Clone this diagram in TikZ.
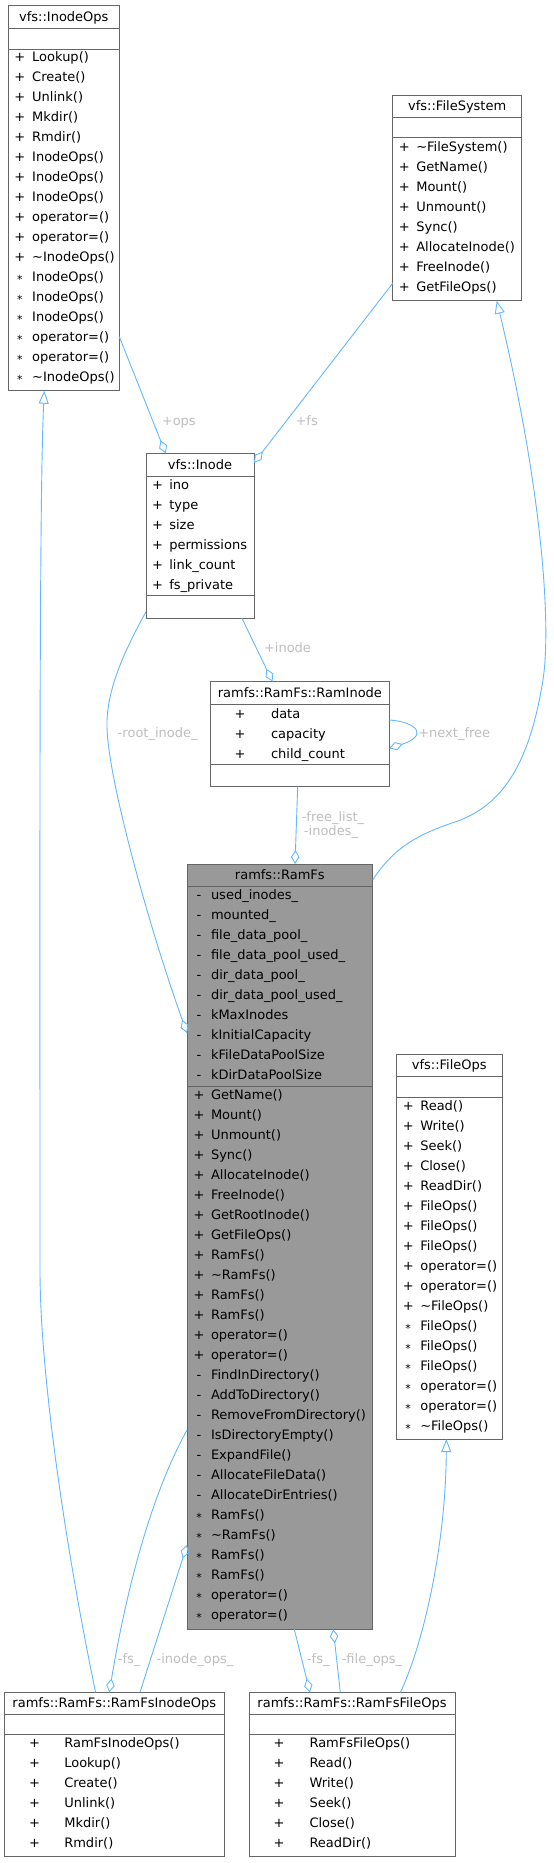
\documentclass[tikz,border=0pt]{standalone}
\usepackage{fontspec}
\setmainfont{DejaVu Sans}
\usetikzlibrary{arrows.meta}
\definecolor{boxline}{HTML}{666666}
\definecolor{mainfill}{HTML}{999999}
\definecolor{edgeblue}{HTML}{63B8FF}
\definecolor{lblgray}{HTML}{BEBEBE}
\newcommand\protsym{{\fontsize{11}{12}\selectfont\raisebox{-1.8pt}{*}}}
\tikzset{
  every node/.style={font=\fontsize{13}{15}\selectfont, inner sep=0pt, outer sep=0pt},
  umlbox/.style={draw=boxline, line width=1pt, rectangle, anchor=north west, fill=white},
  sepline/.style={draw=boxline, line width=1pt},
  symnode/.style={anchor=base},
  txtnode/.style={anchor=base west},
  ttlnode/.style={anchor=base},
  lbl/.style={text=lblgray, anchor=base},
  edge/.style={draw=edgeblue, line width=0.9pt, line join=miter},
  agg/.style={-{Diamond[open,length=14pt,width=8.5pt]}},
  inh/.style={-{Triangle[open,length=13pt,width=10pt]}}
}
\newcommand\classrows[5]{%
  \foreach \rowsym/\rowtxt [count=\ri] in {#5} {%
    \pgfmathsetmacro\yy{#4+20*(\ri-1)+4.6}%
    \node[symnode] (#1s\ri) at (#2,\yy) {\rowsym};%
    \node[txtnode] (#1t\ri) at (#3,\yy) {\rowtxt};%
  }%
}
\begin{document}
\begin{tikzpicture}[x=1pt,y=-1pt]
\useasboundingbox (0,0) rectangle (554,1863);
\fill[white] (0,0) rectangle (554,1863);

% ---------- vfs::InodeOps ----------
\node[umlbox, minimum width=111pt, minimum height=385.7pt] (iops) at (8.3,5) {};
\draw[sepline] (8.3,28.3) -- (119.3,28.3);
\draw[sepline] (8.3,49) -- (119.3,49);
\node[ttlnode] (iopsT) at (63.8,21.3) {vfs::InodeOps};
\classrows{io}{19.8}{32.2}{57.3}{+/Lookup(),+/Create(),+/Unlink(),+/Mkdir(),+/Rmdir(),+/InodeOps(),+/InodeOps(),+/InodeOps(),+/operator=(),+/operator=(),+/\textasciitilde InodeOps(),\protsym/InodeOps(),\protsym/InodeOps(),\protsym/InodeOps(),\protsym/operator=(),\protsym/operator=(),\protsym/\textasciitilde InodeOps()}

% ---------- vfs::FileSystem ----------
\node[umlbox, minimum width=129pt, minimum height=205.7pt] (fsys) at (392.7,95) {};
\draw[sepline] (392.7,117.7) -- (521.7,117.7);
\draw[sepline] (392.7,137.7) -- (521.7,137.7);
\node[ttlnode] (fsysT) at (457.2,110.9) {vfs::FileSystem};
\classrows{fs}{404.2}{416.3}{146.7}{+/\textasciitilde FileSystem(),+/GetName(),+/Mount(),+/Unmount(),+/Sync(),+/AllocateInode(),+/FreeInode(),+/GetFileOps()}

% ---------- vfs::Inode ----------
\node[umlbox, minimum width=108pt, minimum height=165pt] (inode) at (146,453.3) {};
\draw[sepline] (146,476) -- (254,476);
\draw[sepline] (146,595.3) -- (254,595.3);
\node[ttlnode] (inodeT) at (200,469.3) {vfs::Inode};
\classrows{in}{157.5}{169.3}{484.7}{+/ino,+/type,+/size,+/permissions,+/link\_count,+/fs\_private}

% ---------- ramfs::RamFs::RamInode ----------
\node[umlbox, minimum width=178.8pt, minimum height=105pt] (raminode) at (210.5,681.5) {};
\draw[sepline] (210.5,704.5) -- (389.3,704.5);
\draw[sepline] (210.5,764.3) -- (389.3,764.3);
\node[ttlnode] (raminodeT) at (299.9,697.9) {ramfs::RamFs::RamInode};
\classrows{ri}{240}{271}{713.5}{+/data,+/capacity,+/child\_count}

% ---------- ramfs::RamFs ----------
\node[umlbox, fill=mainfill, minimum width=185.7pt, minimum height=765.3pt] (ramfs) at (187,864) {};
\draw[sepline] (187,886) -- (372.7,886);
\draw[sepline] (187,1086.7) -- (372.7,1086.7);
\node[ttlnode] (ramfsT) at (279.8,879.6) {ramfs::RamFs};
\classrows{rfa}{199}{211}{895.3}{-/used\_inodes\_,-/mounted\_,-/file\_data\_pool\_,-/file\_data\_pool\_used\_,-/dir\_data\_pool\_,-/dir\_data\_pool\_used\_,-/kMaxInodes,-/kInitialCapacity,-/kFileDataPoolSize,-/kDirDataPoolSize}
\classrows{rfm}{199}{211}{1095.3}{+/GetName(),+/Mount(),+/Unmount(),+/Sync(),+/AllocateInode(),+/FreeInode(),+/GetRootInode(),+/GetFileOps(),+/RamFs(),+/\textasciitilde RamFs(),+/RamFs(),+/RamFs(),+/operator=(),+/operator=(),-/FindInDirectory(),-/AddToDirectory(),-/RemoveFromDirectory(),-/IsDirectoryEmpty(),-/ExpandFile(),-/AllocateFileData(),-/AllocateDirEntries(),\protsym/RamFs(),\protsym/\textasciitilde RamFs(),\protsym/RamFs(),\protsym/RamFs(),\protsym/operator=(),\protsym/operator=()}

% ---------- vfs::FileOps ----------
\node[umlbox, minimum width=105.3pt, minimum height=385pt] (fops) at (396.7,1054) {};
\draw[sepline] (396.7,1076.7) -- (502,1076.7);
\draw[sepline] (396.7,1097.3) -- (502,1097.3);
\node[ttlnode] (fopsT) at (449.3,1069.9) {vfs::FileOps};
\classrows{fo}{408.2}{420.3}{1106}{+/Read(),+/Write(),+/Seek(),+/Close(),+/ReadDir(),+/FileOps(),+/FileOps(),+/FileOps(),+/operator=(),+/operator=(),+/\textasciitilde FileOps(),\protsym/FileOps(),\protsym/FileOps(),\protsym/FileOps(),\protsym/operator=(),\protsym/operator=(),\protsym/\textasciitilde FileOps()}

% ---------- ramfs::RamFs::RamFsInodeOps ----------
\node[umlbox, minimum width=219.4pt, minimum height=164.2pt] (rfio) at (4.6,1692.3) {};
\draw[sepline] (4.6,1714.7) -- (224,1714.7);
\draw[sepline] (4.6,1734.3) -- (224,1734.3);
\node[ttlnode] (rfioT) at (114.3,1707.9) {ramfs::RamFs::RamFsInodeOps};
\classrows{rio}{34.5}{64.3}{1743}{+/RamFsInodeOps(),+/Lookup(),+/Create(),+/Unlink(),+/Mkdir(),+/Rmdir()}

% ---------- ramfs::RamFs::RamFsFileOps ----------
\node[umlbox, minimum width=206pt, minimum height=164.2pt] (rffo) at (249,1692.3) {};
\draw[sepline] (249,1714.7) -- (455,1714.7);
\draw[sepline] (249,1734.3) -- (455,1734.3);
\node[ttlnode] (rffoT) at (352,1707.9) {ramfs::RamFs::RamFsFileOps};
\classrows{rfo}{279}{309.5}{1743}{+/RamFsFileOps(),+/Read(),+/Write(),+/Seek(),+/Close(),+/ReadDir()}

% ---------- connectors ----------
% +ops
\draw[edge, agg] ([shift={(0,331.7)}]iops.north east) -- ([shift={(19.7,0)}]inode.north west);
\node[lbl] (lops) at (178.8,425.6) {+ops};
% +fs
\draw[edge, agg] ([shift={(0,188.3)}]fsys.north west) -- ([shift={(0,9.5)}]inode.north east);
\node[lbl] (lfs) at (306.7,425.6) {+fs};
% +inode
\draw[edge, agg] ([shift={(96,0)}]inode.south west) -- ([shift={(62,0)}]raminode.north west);
\node[lbl] (linode) at (287.5,652.6) {+inode};
% -root_inode_
\draw[edge, agg] ([shift={(0,-6.6)}]inode.south west) .. controls (125,650) and (106,690) .. (107,727) .. controls (108,780) and (150,930) .. ([shift={(0,169)}]ramfs.north west);
\node[lbl] (lroot) at (157.7,737.3) {-root\_inode\_};
% +next_free self loop
\draw[edge, agg] ([shift={(0,38.5)}]raminode.north east) .. controls (418,722) and (428,736) .. ([shift={(0,66.8)}]raminode.north east);
\node[lbl, anchor=base west] (lnext) at (418.3,737.6) {+next\_free};
% -free_list_ / -inodes_
\draw[edge, agg] ([shift={(87.2,0)}]raminode.south west) -- ([shift={(108,0)}]ramfs.north west);
\node[lbl] (lfree) at (333,821.3) {-free\_list\_};
\node[lbl] (linodes) at (331,835.6) {-inodes\_};
% RamFs inherits FileSystem
\draw[edge, inh] ([shift={(0,16)}]ramfs.north east) .. controls (392,850) and (415,835) .. (455,822) .. controls (505,805) and (530,760) .. (543,680) .. controls (552,620) and (540,480) .. ([shift={(104,0)}]fsys.south west);
% RamFsInodeOps inherits InodeOps
\draw[edge, inh] ([shift={(91,0)}]rfio.north west) .. controls (68,1560) and (40,1380) .. (40,1270) .. controls (40,900) and (39,500) .. ([shift={(36,0)}]iops.south west);
% -fs_ (RamFsInodeOps)
\draw[edge, agg] ([shift={(0,566)}]ramfs.north west) .. controls (140,1515) and (118,1640) .. ([shift={(104.7,0)}]rfio.north west);
\node[lbl] (lfs1) at (129.2,1663.9) {-fs\_};
% -inode_ops_
\draw[edge, agg] ([shift={(135.4,0)}]rfio.north west) -- ([shift={(0,681)}]ramfs.north west);
\node[lbl] (liops) at (195,1663.9) {-inode\_ops\_};
% -fs_ (RamFsFileOps)
\draw[edge, agg] ([shift={(107.3,0)}]ramfs.south west) -- ([shift={(61,0)}]rffo.north west);
\node[lbl] (lfs2) at (318.3,1663.9) {-fs\_};
% -file_ops_
\draw[edge, agg] ([shift={(91.3,0)}]rffo.north west) -- ([shift={(146.3,0)}]ramfs.south west);
\node[lbl] (lfops) at (372,1663.9) {-file\_ops\_};
% RamFsFileOps inherits FileOps
\draw[edge, inh] ([shift={(151.4,0)}]rffo.north west) .. controls (425,1640) and (446,1540) .. ([shift={(49.6,0)}]fops.south west);
\end{tikzpicture}
\end{document}
